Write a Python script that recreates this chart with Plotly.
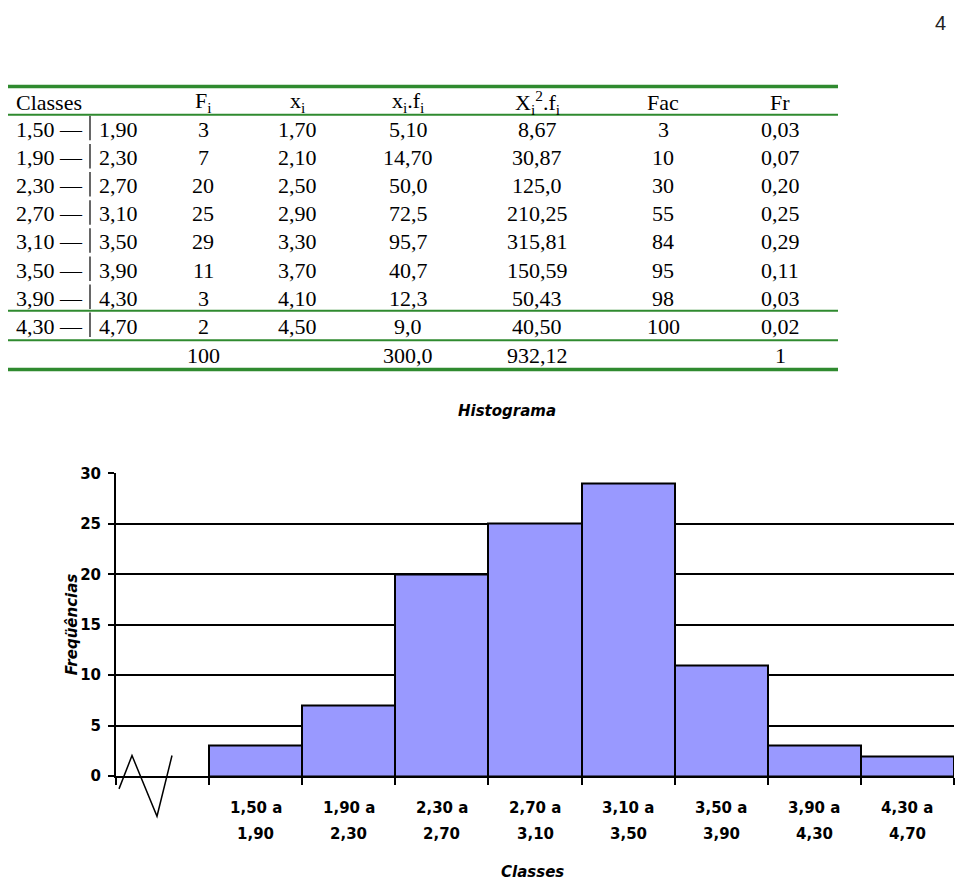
import plotly.graph_objects as go

# ---------------- data ----------------
class_lo = ["1,50", "1,90", "2,30", "2,70", "3,10", "3,50", "3,90", "4,30"]
class_hi = ["1,90", "2,30", "2,70", "3,10", "3,50", "3,90", "4,30", "4,70"]
fi = [3, 7, 20, 25, 29, 11, 3, 2]
xi = ["1,70", "2,10", "2,50", "2,90", "3,30", "3,70", "4,10", "4,50"]
xifi = ["5,10", "14,70", "50,0", "72,5", "95,7", "40,7", "12,3", "9,0"]
xi2fi = ["8,67", "30,87", "125,0", "210,25", "315,81", "150,59", "50,43", "40,50"]
fac = ["3", "10", "30", "55", "84", "95", "98", "100"]
fr = ["0,03", "0,07", "0,20", "0,25", "0,29", "0,11", "0,03", "0,02"]
totals = {"fi": "100", "xifi": "300,0", "xi2fi": "932,12", "fr": "1"}
headers = ["Classes", "F<sub>i</sub>", "x<sub>i</sub>", "x<sub>i</sub>.f<sub>i</sub>",
           "X<sub>i</sub><sup>2</sup>.f<sub>i</sub>", "Fac", "Fr"]

W, H = 960, 888


def px(x):
    return x / W


def py(y):
    return 1 - y / H


SERIF = "Liberation Serif"
COMIC = "DejaVu Sans"
GREEN = "#2f8a2f"

fig = go.Figure()

# histogram bars (first slot left empty for the axis break)
centers = [i + 1.5 for i in range(len(fi))]
fig.add_trace(go.Bar(
    x=centers, y=fi, width=1,
    marker=dict(color="#9999FF", line=dict(color="black", width=2)),
    hoverinfo="skip",
))

annotations = []
shapes = []

# ---------------- table ----------------
col_x = {"fi": 203, "xi": 297, "xifi": 408, "xi2fi": 537, "fac": 663, "fr": 780}
header_y = 95
row_y = [123 + i * 28.7 for i in range(len(fi))]
total_y = 354


def txt(x, y, s, anchor="center", size=22, font=SERIF, color="black", weight="normal"):
    annotations.append(dict(
        x=px(x), y=py(y), xref="paper", yref="paper", text=s, showarrow=False,
        xanchor=anchor, yanchor="middle",
        font=dict(family=font, size=size, color=color, weight=weight),
    ))


txt(14, header_y, headers[0], anchor="left")
for key, h in zip(["fi", "xi", "xifi", "xi2fi", "fac", "fr"], headers[1:]):
    txt(col_x[key], header_y, h)

for i, y in enumerate(row_y):
    txt(14, y, class_lo[i] + " \u2014", anchor="left")
    txt(97, y, class_hi[i], anchor="left")
    shapes.append(dict(type="line", xref="paper", yref="paper",
                       x0=px(90), x1=px(90), y0=py(y - 14), y1=py(y + 11),
                       line=dict(color="black", width=1.2)))
    txt(col_x["fi"], y, str(fi[i]))
    txt(col_x["xi"], y, xi[i])
    txt(col_x["xifi"], y, xifi[i])
    txt(col_x["xi2fi"], y, xi2fi[i])
    txt(col_x["fac"], y, fac[i])
    txt(col_x["fr"], y, fr[i])

for key, v in totals.items():
    txt(col_x[key], total_y, v)

for y, w in [(79, 3.5), (108, 2), (308, 2), (338, 2), (368, 3.5)]:
    shapes.append(dict(type="line", xref="paper", yref="paper",
                       x0=px(8), x1=px(838), y0=py(y), y1=py(y),
                       line=dict(color=GREEN, width=w)))

# page number
txt(940, 14, "4", size=20, font="Liberation Sans", color="#222")

# ---------------- histogram texts ----------------
txt(507, 410, "<i>Histograma</i>", size=15, font=COMIC, weight="bold")
txt(532, 881, "<i>Classes</i>", size=15, font=COMIC, weight="bold")
annotations.append(dict(
    x=px(72), y=py(628), xref="paper", yref="paper", text="<i>Freqüências</i>",
    showarrow=False, textangle=-90, xanchor="center", yanchor="middle",
    font=dict(family=COMIC, size=15, color="black", weight="bold"),
))

for c, lo, hi in zip(centers, class_lo, class_hi):
    for s, y in [(lo + " a", 816), (hi, 842)]:
        annotations.append(dict(
            x=c, y=py(y), xref="x", yref="paper", text=s,
            showarrow=False, xanchor="center", yanchor="middle",
            font=dict(family=COMIC, size=15, color="black", weight="bold"),
        ))

# axis break zigzag
zig = [(119, 796), (132, 762), (157, 824), (172, 762)]
path = "M " + " L ".join(f"{px(x)},{py(y)}" for x, y in zig)
shapes.append(dict(type="path", xref="paper", yref="paper", path=path,
                   line=dict(color="black", width=1.5)))

fig.update_layout(
    width=W, height=H,
    margin=dict(l=0, r=0, t=0, b=0),
    paper_bgcolor="white", plot_bgcolor="white",
    showlegend=False,
    bargap=0,
    annotations=annotations,
    shapes=shapes,
    xaxis=dict(
        domain=[px(116), px(954)], range=[0, 9],
        tickmode="linear", tick0=0, dtick=1,
        ticks="outside", ticklen=7, tickwidth=2, tickcolor="black",
        showticklabels=False, showgrid=False, zeroline=False,
        showline=True, linecolor="black", linewidth=2,
    ),
    yaxis=dict(
        domain=[py(783), py(474)], range=[0, 30],
        tickmode="array", tickvals=[0, 5, 10, 15, 20, 25, 30],
        ticks="outside", ticklen=6, tickwidth=2, tickcolor="black",
        tickfont=dict(family=COMIC, size=15, color="black", weight="bold"),
        showgrid=True, gridcolor="black", gridwidth=1.6, zeroline=False,
        showline=True, linecolor="black", linewidth=2,
        ticklabelstandoff=4,
    ),
)

fig.write_html("out.html")
